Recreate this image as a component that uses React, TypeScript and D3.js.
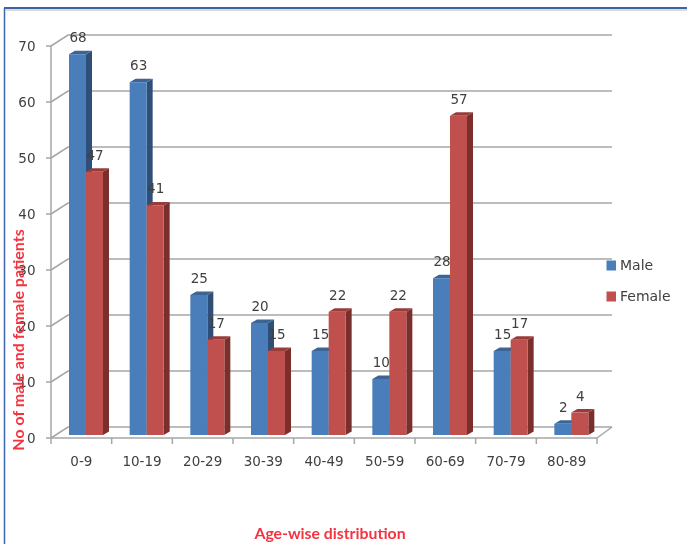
import React from "react";
import * as d3 from "d3";

const categories = ["0-9", "10-19", "20-29", "30-39", "40-49", "50-59", "60-69", "70-79", "80-89"];
const maleValues = [68, 63, 25, 20, 15, 10, 28, 15, 2];
const femaleValues = [47, 41, 17, 15, 22, 22, 57, 17, 4];
const yTicks = [0, 10, 20, 30, 40, 50, 60, 70];

const seriesList = [
    { name: "Male", values: maleValues, front: "#4a7ebb", side: "#2f4f78", top: "#3c6494" },
    { name: "Female", values: femaleValues, front: "#c0504d", side: "#7a2f2d", top: "#983c3a" },
];

const axisColor = "#a6a6a6";
const textColor = "#404040";
const titleColor = "#f5333f";
const font = "'DejaVu Sans', sans-serif";
const titleFont = "Lato, sans-serif";

// 3D 偏移
const depthX = 17;
const depthY = -11;
const barDepthX = 6;
const barDepthY = -3.5;

export default function App() {
    const x = d3.scaleBand<string>().domain(categories).range([51, 597]);
    const y = d3.scaleLinear().domain([0, 70]).range([438, 46]);
    const barY = (v: number) => y(v) - 3;
    const groupOffset = 18;
    const barW = 17;

    return (
        <svg width={687} height={544} style={{ position: "absolute", left: 0, top: 0, background: "#fff", filter: "blur(0.4px)" }}>
            {/* 外框 */}
            <line x1={4.5} y1={8} x2={4.5} y2={544} stroke="#3f66ae" strokeWidth={1.5} />
            <line x1={4} y1={8} x2={687} y2={8} stroke="#3f62a8" strokeWidth={2} />
            <line x1={5} y1={10} x2={687} y2={10} stroke="#cfcfcf" strokeWidth={1.5} />

            {/* 背景格線 */}
            {yTicks.map(t => (
                <g key={t} stroke={axisColor} strokeWidth={1.5} fill="none">
                    <line x1={x.range()[0] - 5} y1={y(t)} x2={x.range()[0]} y2={y(t)} />
                    <polyline points={`${51},${y(t)} ${51 + depthX},${y(t) + depthY} ${597 + depthX - 2},${y(t) + depthY}`} />
                </g>
            ))}
            {/* 底面與座標軸 */}
            <line x1={51} y1={y(70)} x2={51} y2={y(0)} stroke={axisColor} strokeWidth={1.5} />
            <line x1={51} y1={y(0)} x2={597} y2={y(0)} stroke={axisColor} strokeWidth={1.5} />
            <line x1={597} y1={y(0)} x2={612} y2={y(0) + depthY} stroke={axisColor} strokeWidth={1.5} />
            {categories.map(c => (
                <line key={c} x1={(x(c) as number) + x.bandwidth()} y1={y(0)} x2={(x(c) as number) + x.bandwidth()} y2={y(0) + 6} stroke={axisColor} strokeWidth={1.5} />
            ))}
            <line x1={51} y1={y(0)} x2={51} y2={y(0) + 6} stroke={axisColor} strokeWidth={1.5} />

            {/* 長條 */}
            {categories.map((c, i) => (
                <g key={c}>
                    {seriesList.map((s, j) => {
                        const x0 = (x(c) as number) + groupOffset + j * barW;
                        const x1 = x0 + barW;
                        const v = s.values[i];
                        const top = barY(v);
                        const bottom = barY(0);
                        return (
                            <g key={s.name}>
                                <path d={`M${x1},${top} L${x1 + barDepthX},${top + barDepthY} L${x1 + barDepthX},${bottom + barDepthY} L${x1},${bottom} Z`} fill={s.side} />
                                <path d={`M${x0},${top} L${x0 + barDepthX},${top + barDepthY} L${x1 + barDepthX},${top + barDepthY} L${x1},${top} Z`} fill={s.top} />
                                <rect x={x0} y={top} width={barW} height={bottom - top} fill={s.front} />
                            </g>
                        );
                    })}
                </g>
            ))}

            {/* 數值標籤 */}
            {categories.map((c, i) => (
                <g key={c} fontFamily={font} fontSize={13.5} fill={textColor} textAnchor="middle">
                    {seriesList.map((s, j) => (
                        <text key={s.name} x={(x(c) as number) + groupOffset + j * barW + barW / 2 + 0.5} y={barY(s.values[i]) - 12}>
                            {s.values[i]}
                        </text>
                    ))}
                </g>
            ))}

            {/* 軸標籤 */}
            {yTicks.map(t => (
                <text key={t} x={35.5} y={y(t) + 5} textAnchor="end" fontFamily={font} fontSize={13.5} fill={textColor}>{t}</text>
            ))}
            {categories.map(c => (
                <text key={c} x={(x(c) as number) + x.bandwidth() / 2} y={466} textAnchor="middle" fontFamily={font} fontSize={13.5} fill={textColor}>{c}</text>
            ))}

            {/* 圖例 */}
            {seriesList.map((s, j) => (
                <g key={s.name}>
                    <rect x={606.5} y={260.5 + j * 31} width={9.5} height={10} fill={s.front} />
                    <text x={620} y={270 + j * 31} fontFamily={font} fontSize={14} fill={textColor}>{s.name}</text>
                </g>
            ))}

            {/* 軸標題 */}
            <text transform="translate(24,340) rotate(-90)" textAnchor="middle" fontFamily={titleFont} fontSize={16} fontWeight="bold" fill={titleColor}>No of male and female patients</text>
            <text x={330} y={539} textAnchor="middle" fontFamily={titleFont} fontSize={15.8} fontWeight="bold" fill={titleColor}>Age-wise distribution</text>
        </svg>
    );
}
